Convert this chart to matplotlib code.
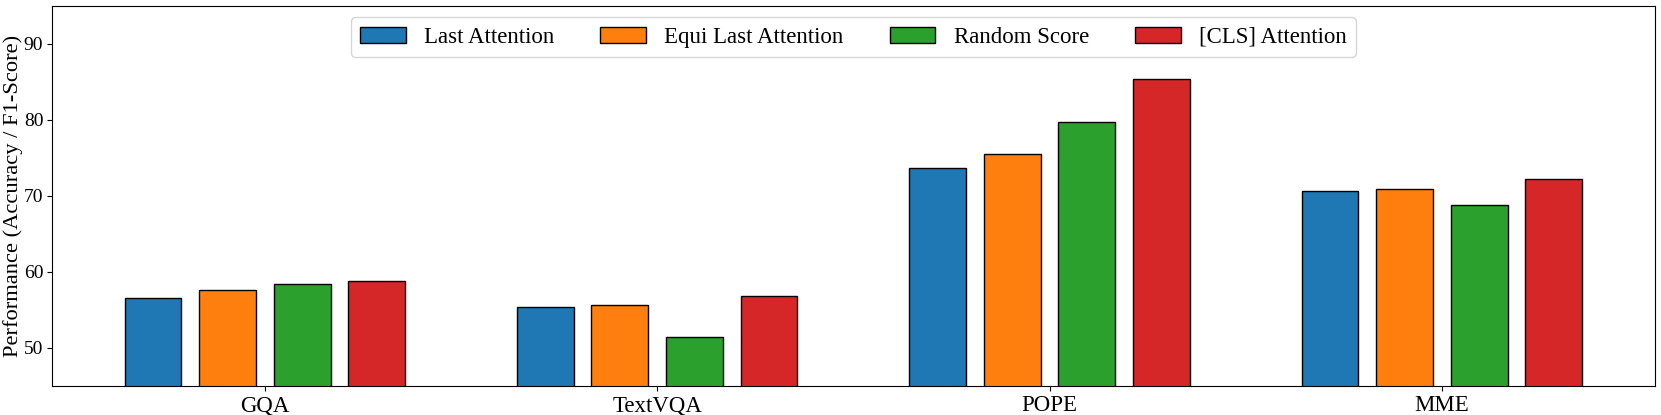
import numpy as np
import matplotlib
matplotlib.use("Agg")
import matplotlib.pyplot as plt

# values
datasets = ["GQA", "TextVQA", "POPE", "MME"]
methods = ["Last Attention", "Equi Last Attention", "Random Score", "[CLS] Attention"]
last_attention = [56.6, 55.4, 73.7, 70.6]
equi_last_attention = [57.6, 55.6, 75.5, 70.9]
random_score = [58.4, 51.4, 79.7, 68.8]
cls_attention = [58.8, 56.8, 85.4, 72.2]

colors = ["#1f77b4", "#ff7f0e", "#2ca02c", "#d62728"]

plt.rcParams["font.family"] = ["Liberation Serif", "DejaVu Serif"]


def main():
    series = [last_attention, equi_last_attention, random_score, cls_attention]
    x = np.arange(len(datasets))
    step = 0.19
    width = 0.145

    fig, ax = plt.subplots(figsize=(16.61, 4.15), dpi=100)

    for i, (name, vals) in enumerate(zip(methods, series)):
        ax.bar(x + (i - 1.5) * step, vals, width, label=name,
               color=colors[i], edgecolor="black", linewidth=1)

    ax.set_ylim(45, 95)
    ax.set_xticks(x)
    ax.set_xticklabels(datasets, fontsize=16.5)
    ax.tick_params(axis="y", labelsize=14, pad=2.5)
    ax.set_ylabel("Performance (Accuracy / F1-Score)", fontsize=16.2)
    ax.yaxis.set_label_coords(-0.018, 0.5)

    ax.legend(loc="upper center", ncol=4, fontsize=16.5)

    plt.subplots_adjust(left=0.0311, right=0.9964, top=0.9855, bottom=0.0706)
    plt.savefig("out.png")


if __name__ == "__main__":
    main()
